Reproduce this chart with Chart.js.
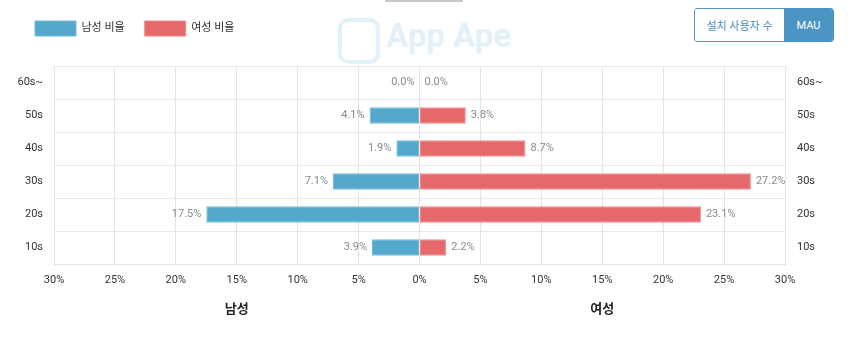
<!DOCTYPE html>
<html><head><meta charset="utf-8">
<script src="https://cdn.jsdelivr.net/npm/chart.js@4"></script>
<style>
html,body{margin:0;padding:0;background:#fff;}
#wrap{position:relative;width:850px;height:346px;overflow:hidden;font-family:Roboto,"Noto Sans CJK KR",sans-serif;}
#c{position:absolute;left:0;top:0;z-index:2;}
#topbar{position:absolute;left:385px;top:0;width:78px;height:2px;background:#c8c8c8;}
#wm{position:absolute;left:338px;top:15px;z-index:1;color:#e2f1f9;}
#wm .ic{position:absolute;left:0;top:3px;width:34px;height:38px;border:4px solid #e2f1f9;border-radius:10px;}
#wm .tx{position:absolute;left:48px;top:2px;font:bold 33px Roboto,sans-serif;white-space:nowrap;line-height:38px;}
#btn{position:absolute;left:694px;top:8px;width:138px;height:32px;border:1px solid #4b95c3;border-radius:3px;display:flex;overflow:hidden;z-index:3;font-size:11px;}
#btn .a{flex:1;display:flex;align-items:center;justify-content:center;color:#4b8fba;background:#fff;}
#btn .b{width:49px;display:flex;align-items:center;justify-content:center;color:#fff;background:#4b95c3;}
</style></head>
<body>
<div id="wrap">
<div id="topbar"></div>
<div id="wm"><div class="ic"></div><div class="tx">App Ape</div></div>
<canvas id="c" width="850" height="346"></canvas>
<div id="btn"><div class="a">설치 사용자 수</div><div class="b">MAU</div></div>
</div>
<script>
const categories = ['60s~','50s','40s','30s','20s','10s'];
const maleRatio = [0.0, 4.1, 1.9, 7.1, 17.5, 3.9];
const femaleRatio = [0.0, 3.8, 8.7, 27.2, 23.1, 2.2];
const seriesNames = ['남성 비율','여성 비율'];
const sideTitles = ['남성','여성'];
const xTicks = [-30,-25,-20,-15,-10,-5,0,5,10,15,20,25,30];

const FONT = 'Roboto, "Noto Sans CJK KR", sans-serif';
const BLUE = '#54a8cc';
const RED = '#e5686b';

const legendSpace = {
  id:'legendSpace',
  beforeInit(chart){
    const lg = chart.legend;
    const f = lg.fit;
    lg.fit = function(){ f.bind(lg)(); this.height += 21; };
    const d = lg.draw;
    lg.draw = function(){ const ctx = chart.ctx; ctx.save(); ctx.translate(15, 1); d.bind(lg)(); ctx.restore(); };
  }
};

const valueLabels = {
  id:'valueLabels',
  afterDatasetsDraw(chart){
    const ctx = chart.ctx;
    ctx.save();
    ctx.font = '11px ' + FONT;
    ctx.fillStyle = '#8a8a8a';
    ctx.textBaseline = 'middle';
    chart.data.datasets.forEach((ds, di) => {
      const meta = chart.getDatasetMeta(di);
      const src = di === 0 ? maleRatio : femaleRatio;
      meta.data.forEach((bar, i) => {
        const txt = src[i].toFixed(1) + '%';
        if (di === 0) { ctx.textAlign = 'right'; ctx.fillText(txt, bar.x - 5, bar.y); }
        else { ctx.textAlign = 'left'; ctx.fillText(txt, bar.x + 5, bar.y); }
      });
    });
    ctx.restore();
  }
};

const sideTitlePlugin = {
  id:'sideTitles',
  afterDraw(chart){
    const ctx = chart.ctx, xs = chart.scales.x;
    ctx.save();
    ctx.font = 'bold 13px ' + FONT;
    ctx.fillStyle = '#222';
    ctx.textAlign = 'center';
    ctx.textBaseline = 'middle';
    ctx.fillText(sideTitles[0], xs.getPixelForValue(-15), 310);
    ctx.fillText(sideTitles[1], xs.getPixelForValue(15), 310);
    ctx.restore();
  }
};

new Chart(document.getElementById('c'), {
  type:'bar',
  data:{
    labels: categories,
    datasets:[
      {label:seriesNames[0], data: maleRatio.map(v => -v), backgroundColor:BLUE, borderColor:'#74bad8', borderWidth:1, borderSkipped:false, barPercentage:0.5, categoryPercentage:1, yAxisID:'y'},
      {label:seriesNames[1], data: femaleRatio, backgroundColor:RED, borderColor:'#ee8a8c', borderWidth:1, borderSkipped:false, barPercentage:0.5, categoryPercentage:1, yAxisID:'y'}
    ]
  },
  options:{
    indexAxis:'y',
    responsive:false,
    animation:false,
    layout:{padding:{left:0, right:0, top:0, bottom:54}},
    plugins:{
      legend:{
        position:'top', align:'start',
        labels:{boxWidth:41, boxHeight:15, padding:20, color:'#333', font:{size:11, family:FONT}}
      },
      tooltip:{enabled:false}
    },
    scales:{
      x:{
        type:'linear', min:-30, max:30, stacked:true,
        afterBuildTicks(s){ s.ticks = xTicks.map(v => ({value:v})); },
        ticks:{ callback:v => Math.abs(v) + '%', color:'#333', font:{size:11, family:FONT}, padding:10, maxRotation:0 },
        grid:{ color:'#e3e3e3', drawTicks:false },
        border:{ color:'#e3e3e3' },
        afterFit(s){ s.height = 28; }
      },
      y:{
        type:'category', position:'left', stacked:true,
        ticks:{ color:'#333', font:{size:11, family:FONT}, padding:11 },
        grid:{ color:'#e8e8e8', drawTicks:false, offset:true },
        border:{ color:'#e3e3e3' },
        afterFit(s){ s.width = 54; }
      },
      y2:{
        type:'category', position:'right', labels:categories, offset:true,
        ticks:{ color:'#333', font:{size:11, family:FONT}, padding:12 },
        grid:{ display:false, drawTicks:false },
        border:{ color:'#e3e3e3' },
        afterFit(s){ s.width = 65; }
      }
    }
  },
  plugins:[legendSpace, valueLabels, sideTitlePlugin]
});
</script>
</body></html>
